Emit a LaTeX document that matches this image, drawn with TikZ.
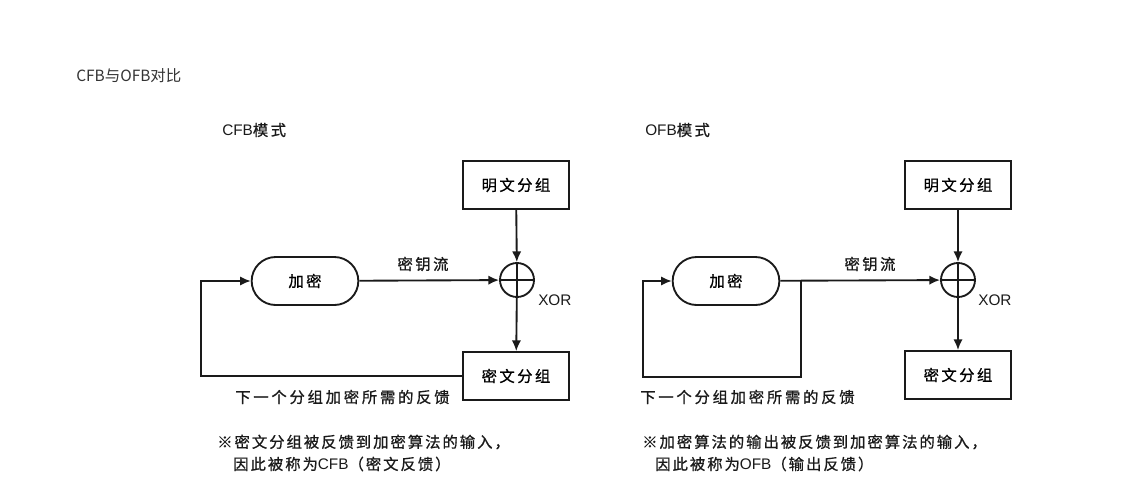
\documentclass[tikz,border=0pt]{standalone}
\usepackage{fontspec}
\setmainfont{Noto Sans CJK SC}
\newfontfamily\cjkbox[LetterSpace=16,FakeBold=0.9]{Noto Sans CJK SC}
\newfontfamily\cjkfb[LetterSpace=18,FakeBold=0.9]{Noto Sans CJK SC}
\newfontfamily\cjknote[LetterSpace=13,FakeBold=0.9]{Noto Sans CJK SC}
\newfontfamily\latfont{Liberation Sans}
\newcommand{\lat}[1]{{\latfont #1}}
\usepackage{tikz}
\usetikzlibrary{arrows.meta,positioning,calc}
\definecolor{titlegray}{HTML}{333333}
\definecolor{ink}{HTML}{1A1A1A}

\begin{document}
\begin{tikzpicture}[
  x=0.75pt,y=-0.75pt,>=Latex,
  font=\fontsize{11.5}{13}\selectfont,
  blockbox/.style={draw=ink,line width=1.4pt,minimum width=80pt,minimum height=36pt,
    inner sep=0pt,font=\fontsize{11.5}{13}\cjkbox},
  encbox/.style={draw=ink,line width=1.4pt,rounded corners=18pt,minimum width=80pt,
    minimum height=36pt,inner sep=0pt,font=\fontsize{11.5}{13}\cjkbox},
  xorc/.style={draw=ink,line width=1.4pt,circle,minimum size=25.5pt,inner sep=0pt},
  ar/.style={->,draw=ink,line width=1.4pt,>={Latex[length=8pt,width=7pt]}},
  ln/.style={draw=ink,line width=1.4pt},
  lbl/.style={inner sep=0pt,text=ink,font=\fontsize{11.5}{13}\cjkbox},
  fblbl/.style={inner sep=0pt,text=ink,font=\fontsize{11.5}{13}\cjkfb},
  notelbl/.style={inner sep=0pt,text=ink,anchor=west,font=\fontsize{11.5}{13}\cjknote}
]
\useasboundingbox (0,0) rectangle (1122,497);
\node[anchor=west,inner sep=0pt,text=titlegray,font=\fontsize{11.6}{13}\selectfont] (title) at (76,76) {CFB与OFB对比};

% CFB
\node[lbl,anchor=west] (cfbname) at (222,130) {\lat{CFB}模式};
\node[blockbox] (pt1) at (516,185) {明文分组};
\node[xorc] (xor1) at (517,280) {};
\node[encbox] (enc1) at (305,281) {加密};
\node[blockbox] (ct1) at (516,376) {密文分组};
\draw[ln] (xor1.north)--(xor1.south) (xor1.west)--(xor1.east);
\node[lbl] (ks1) at (423,264) {密钥流};
\node[lbl,anchor=west] (xl1) at (538,300) {\lat{XOR}};
\draw[ar] (pt1)--(xor1);
\draw[ar] (enc1)--(xor1);
\draw[ar] (xor1)--(ct1);
\coordinate (fb1) at (201,330);
\draw[ar] (ct1.west) -| (fb1) |- (enc1.west);
\node[fblbl,anchor=west] (fbl1) at (235,397) {下一个分组加密所需的反馈};
\node[notelbl] (note1a) at (217,442) {※密文分组被反馈到加密算法的输入，};
\node[notelbl] (note1b) at (233,464) {因此被称为\lat{CFB}（密文反馈）};

% OFB
\node[lbl,anchor=west] (ofbname) at (645,130) {\lat{OFB}模式};
\node[blockbox] (pt2) at (958,185) {明文分组};
\node[xorc] (xor2) at (958,280) {};
\node[encbox] (enc2) at (726,281) {加密};
\node[blockbox] (ct2) at (958,375) {密文分组};
\draw[ln] (xor2.north)--(xor2.south) (xor2.west)--(xor2.east);
\node[lbl] (ks2) at (870,264) {密钥流};
\node[lbl,anchor=west] (xl2) at (978,300) {\lat{XOR}};
\draw[ar] (pt2)--(xor2);
\draw[ar] (enc2)--(xor2);
\draw[ar] (xor2)--(ct2);
\coordinate (fb2a) at (801,377);
\coordinate (fb2b) at (643,377);
\draw[ar] (enc2.east -| fb2a) -- (fb2a) -- (fb2b) |- (enc2.west);
\node[fblbl,anchor=west] (fbl2) at (640,397) {下一个分组加密所需的反馈};
\node[notelbl] (note2a) at (642,442) {※加密算法的输出被反馈到加密算法的输入，};
\node[notelbl] (note2b) at (655,464) {因此被称为\lat{OFB}（输出反馈）};
\end{tikzpicture}
\end{document}
